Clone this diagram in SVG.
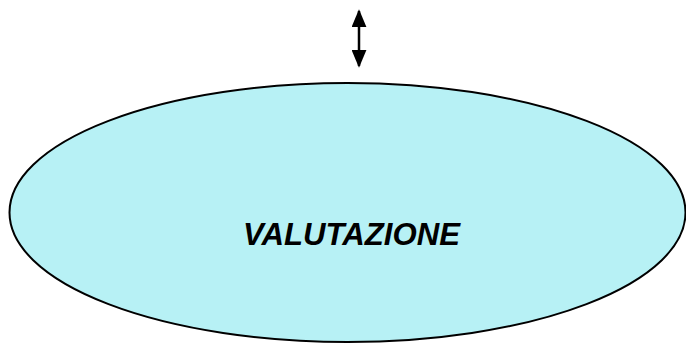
<svg xmlns="http://www.w3.org/2000/svg" width="686" height="344" viewBox="0 0 686 344">
<style>
.node{fill:#b7f1f5;stroke:#000;stroke-width:2}
.lbl{font-family:"Liberation Sans",Arial,sans-serif;font-weight:bold;font-style:italic;font-size:31px;fill:#000}
.conn{stroke:#000;stroke-width:2.5;fill:none}
</style>
<defs>
<marker id="ah" viewBox="0 0 10 10" preserveAspectRatio="none" refX="9" refY="5" markerWidth="18" markerHeight="15" markerUnits="userSpaceOnUse" orient="auto-start-reverse">
<path d="M0,0 L10,5 L0,10 z" fill="#000"/>
</marker>
</defs>
<rect width="686" height="344" fill="#fff"/>
<g id="connectors">
<line class="conn" x1="359" y1="11" x2="359" y2="66" marker-start="url(#ah)" marker-end="url(#ah)"/>
</g>
<g id="valutazione">
<ellipse class="node" cx="347.5" cy="212.5" rx="338" ry="129.5"/>
<text class="lbl" x="351.5" y="245" text-anchor="middle" textLength="217" lengthAdjust="spacingAndGlyphs">VALUTAZIONE</text>
</g>
</svg>
